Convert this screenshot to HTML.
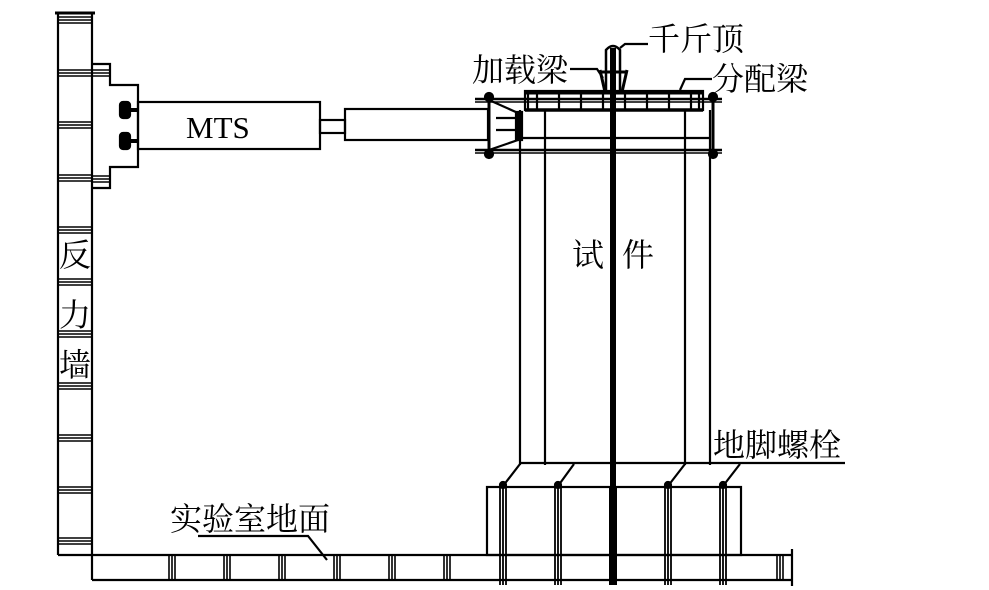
<!DOCTYPE html>
<html><head><meta charset="utf-8"><style>
body{margin:0;background:#fff}
svg{display:block}
text{font-family:"Liberation Serif","Noto Serif CJK SC",serif;fill:#000}
</style></head><body>
<svg width="989" height="590" viewBox="0 0 989 590" xmlns="http://www.w3.org/2000/svg">
<g stroke="#000" fill="none" stroke-width="2.2">
<!-- wall -->
<line x1="58" y1="13" x2="58" y2="555"/>
<line x1="92" y1="13" x2="92" y2="580"/>
<line x1="55" y1="13" x2="95" y2="13" stroke-width="3"/>
<g stroke-width="1.6">
<line x1="58" y1="17" x2="92" y2="17"/><line x1="58" y1="20" x2="92" y2="20"/><line x1="58" y1="23" x2="92" y2="23"/>
</g>
<g stroke-width="1.6">
<path d="M58 70H92M58 73H92M58 76H92 M58 122H92M58 125H92M58 128H92 M58 175H92M58 178H92M58 181H92 M58 227H92M58 230H92M58 233H92 M58 279H92M58 282H92M58 285H92 M58 331H92M58 334H92M58 337H92 M58 383H92M58 386H92M58 389H92 M58 435H92M58 438H92M58 441H92 M58 487H92M58 490H92M58 493H92 M58 538H92M58 541H92M58 544H92"/>
<path d="M92 70H110M92 73H110M92 76H110 M92 176H110M92 179H110M92 182H110"/>
</g>
<line x1="58" y1="555" x2="792" y2="555"/>
<line x1="92" y1="580" x2="792" y2="580"/>
<line x1="792" y1="549" x2="792" y2="586"/>
<g stroke-width="1.6">
<path d="M169 555V580M172 555V580M175 555V580 M224 555V580M227 555V580M230 555V580 M279 555V580M282 555V580M285 555V580 M334 555V580M337 555V580M340 555V580 M389 555V580M392 555V580M395 555V580 M444 555V580M447 555V580M450 555V580 M777 555V580M780 555V580M783 555V580"/>
</g>
<!-- bracket -->
<path d="M92 64H110V85H138V167H110V188H92"/>
<rect x="120" y="102" width="10" height="16" rx="3" fill="#000"/>
<rect x="120" y="133" width="10" height="16" rx="3" fill="#000"/>
<line x1="130" y1="110" x2="138" y2="110" stroke-width="4"/>
<line x1="130" y1="141" x2="138" y2="141" stroke-width="4"/>
<!-- MTS -->
<rect x="138" y="102" width="182" height="47"/>
<rect x="320" y="120" width="25" height="13"/>
<rect x="345" y="109" width="143" height="31"/>
<!-- frame -->
<line x1="475" y1="99" x2="722" y2="99" stroke-width="2.5"/>
<line x1="475" y1="102" x2="722" y2="102" stroke-width="1.5"/>
<line x1="475" y1="150" x2="722" y2="150" stroke-width="2.5"/>
<line x1="475" y1="153" x2="722" y2="153" stroke-width="1.5"/>
<line x1="489" y1="94" x2="489" y2="157" stroke-width="3"/>
<line x1="713" y1="94" x2="713" y2="157" stroke-width="3"/>
<circle cx="489" cy="97" r="4" fill="#000"/><circle cx="489" cy="154" r="4" fill="#000"/>
<circle cx="713" cy="97" r="4" fill="#000"/><circle cx="713" cy="154" r="4" fill="#000"/>
<path d="M489 100L518 113M489 150L518 140"/>
<rect x="516" y="112" width="6" height="28" fill="#000"/>
<line x1="496" y1="118" x2="516" y2="118"/><line x1="496" y1="130" x2="516" y2="130"/>
<!-- top beam -->
<rect x="525" y="91" width="178" height="19"/>
<line x1="525" y1="93" x2="703" y2="93" stroke-width="3"/>
<line x1="525" y1="110" x2="703" y2="110" stroke-width="3.5"/>
<path d="M528 93V110M537 93V110M559 93V110M581 93V110M603 93V110M625 93V110M647 93V110M669 93V110M691 93V110M699 93V110"/>
<!-- specimen -->
<line x1="520" y1="110" x2="520" y2="465"/>
<line x1="545" y1="110" x2="545" y2="465"/>
<line x1="685" y1="110" x2="685" y2="465"/>
<line x1="710" y1="110" x2="710" y2="465"/>
<line x1="520" y1="138" x2="710" y2="138"/>
<line x1="520" y1="463" x2="845" y2="463"/>
<!-- rod -->
<line x1="613" y1="48" x2="613" y2="585" stroke-width="6"/>
<line x1="613" y1="487" x2="613" y2="585" stroke-width="8"/>
<!-- jack -->
<path d="M606 92V50Q613 42 620 50V92" stroke-width="2.5"/>
<path d="M600 72H627M600 70L605 92M627 70L622 92" stroke-width="3"/>
<!-- base -->
<rect x="487" y="487" width="254" height="68"/>
<g stroke-width="1.8">
<path d="M500 486V585M503 486V585M506 486V585M555 486V585M558 486V585M561 486V585M665 486V585M668 486V585M671 486V585M720 486V585M723 486V585M726 486V585"/>
</g>
<path d="M503 486L520 464M558 486L574 464M668 486L685 464M723 486L740 464"/>
<circle cx="503" cy="485" r="3" fill="#000"/><circle cx="558" cy="485" r="3" fill="#000"/><circle cx="668" cy="485" r="3" fill="#000"/><circle cx="723" cy="485" r="3" fill="#000"/>
<!-- leaders -->
<path d="M620 48L625 44H648"/>
<path d="M570 69H597L603 78"/>
<path d="M680 90L685 79H712"/>
<path d="M198 536H308L327 560"/>
</g>
<g font-size="32">
<text x="648" y="50">千斤顶</text>
<text x="472" y="81">加载梁</text>
<text x="712" y="90">分配梁</text>
<text x="572" y="266">试</text>
<text x="622" y="266">件</text>
<text x="713" y="456">地脚螺栓</text>
<text x="170" y="530">实验室地面</text>
<text x="59" y="266">反</text>
<text x="59" y="326">力</text>
<text x="59" y="376">墙</text>
<text x="186" y="138" font-size="31">MTS</text>
</g>
</svg>
</body></html>
